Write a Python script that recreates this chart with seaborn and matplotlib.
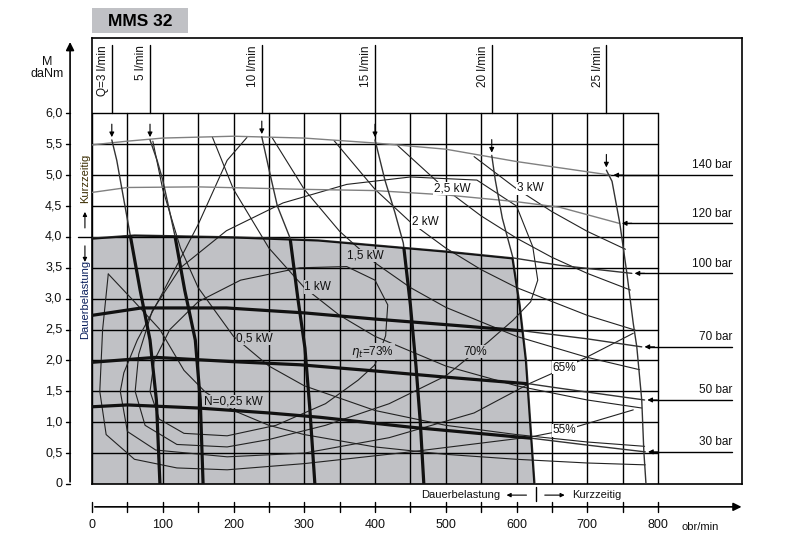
import numpy as np
import matplotlib.pyplot as plt
import seaborn as sns
from matplotlib.patches import Polygon, Rectangle

sns.set_theme(style="white")
plt.rcParams['font.family'] = ['Liberation Sans', 'DejaVu Sans']

# ---- data (x = obr/min, y = daNm) ----
x_ticks = [0, 100, 200, 300, 400, 500, 600, 700, 800]
y_ticks = [0, 0.5, 1.0, 1.5, 2.0, 2.5, 3.0, 3.5, 4.0, 4.5, 5.0, 5.5, 6.0]
y_labels = ["0", "0,5", "1,0", "1,5", "2,0", "2,5", "3,0", "3,5", "4,0", "4,5", "5,0", "5,5", "6,0"]

# pressure lines
p140_x = [0, 50, 100, 200, 300, 400, 500, 600, 733]
p140_y = [5.49, 5.55, 5.6, 5.63, 5.6, 5.52, 5.42, 5.22, 5.0]
p120_x = [0, 50, 150, 300, 400, 500, 600, 661, 745]
p120_y = [4.72, 4.8, 4.81, 4.77, 4.75, 4.68, 4.57, 4.48, 4.22]
p100_x = [0, 60, 200, 320, 400, 500, 595, 661, 763]
p100_y = [3.98, 4.03, 4.0, 3.95, 3.87, 3.77, 3.66, 3.54, 3.41]
p70_x = [0, 70, 190, 300, 400, 500, 609, 700, 777]
p70_y = [2.73, 2.85, 2.85, 2.77, 2.67, 2.58, 2.48, 2.35, 2.22]
p50_x = [0, 90, 200, 294, 400, 500, 619, 661, 781]
p50_y = [1.97, 2.05, 1.98, 1.93, 1.83, 1.73, 1.62, 1.55, 1.36]
p30_x = [0, 50, 150, 250, 322, 450, 622, 700, 782]
p30_y = [1.25, 1.28, 1.23, 1.15, 1.08, 0.92, 0.74, 0.63, 0.52]
pressures = [
    ("140 bar", p140_x, p140_y, "#808080"), ("120 bar", p120_x, p120_y, "#808080"),
    ("100 bar", p100_x, p100_y, "#333333"), ("70 bar", p70_x, p70_y, "#333333"),
    ("50 bar", p50_x, p50_y, "#333333"), ("30 bar", p30_x, p30_y, "#333333"),
]

# flow lines
q3_x = [28, 35, 40, 54, 68, 82, 91, 96]
q3_y = [5.57, 5.24, 4.92, 4.03, 3.14, 2.33, 1.36, 0]
q5_x = [82, 92, 100, 117, 131, 146, 153, 157]
q5_y = [5.57, 5.24, 4.92, 4.03, 3.14, 2.33, 1.36, 0]
q10_x = [240, 250, 262, 280, 291, 301, 308, 315]
q10_y = [5.62, 5.1, 4.5, 3.98, 3.0, 2.2, 1.2, 0]
q15_x = [400, 414, 428, 440, 450, 458, 464, 469]
q15_y = [5.57, 4.92, 4.4, 3.9, 2.9, 1.9, 1.0, 0]
q20_x = [565, 570, 580, 595, 605, 614, 620, 626]
q20_y = [5.32, 4.92, 4.3, 3.66, 2.9, 2.0, 1.0, 0]
q25_x = [727, 735, 746, 756, 765, 770, 777, 780, 783]
q25_y = [5.08, 4.9, 4.22, 3.41, 2.6, 2.22, 1.36, 0.52, 0]
flows = [
    ("Q=3 l/min", q3_x, q3_y), ("5 l/min", q5_x, q5_y), ("10 l/min", q10_x, q10_y),
    ("15 l/min", q15_x, q15_y), ("20 l/min", q20_x, q20_y), ("25 l/min", q25_x, q25_y),
]

# power lines
n025_x = [23, 60, 96, 130, 160, 200, 250, 300, 400, 500, 600, 700, 782]
n025_y = [3.4, 2.95, 2.5, 1.84, 1.49, 1.19, 0.95, 0.8, 0.6, 0.48, 0.4, 0.34, 0.31]
n05_x = [86, 100, 125, 150, 200, 250, 300, 400, 500, 600, 700, 781]
n05_y = [5.55, 4.77, 3.82, 3.18, 2.39, 1.91, 1.59, 1.19, 0.95, 0.8, 0.68, 0.61]
n1_x = [170, 200, 250, 300, 350, 400, 500, 600, 700, 777]
n1_y = [5.62, 4.77, 3.82, 3.18, 2.73, 2.39, 1.91, 1.59, 1.36, 1.23]
n15_x = [255, 300, 350, 400, 450, 500, 600, 700, 774]
n15_y = [5.6, 4.77, 4.09, 3.58, 3.18, 2.86, 2.39, 2.05, 1.85]
n2_x = [342, 400, 450, 500, 550, 600, 700, 768]
n2_y = [5.56, 4.77, 4.24, 3.82, 3.47, 3.18, 2.73, 2.49]
n25_x = [432, 500, 550, 600, 650, 700, 761]
n25_y = [5.48, 4.77, 4.34, 3.98, 3.67, 3.41, 3.14]
n3_x = [540, 600, 650, 700, 754]
n3_y = [5.3, 4.78, 4.41, 4.09, 3.8]
powers = [n025_x, n025_y, n05_x, n05_y, n1_x, n1_y, n15_x, n15_y,
          n2_x, n2_y, n25_x, n25_y, n3_x, n3_y]

# efficiency contours
e73_x = [400, 376, 330, 260, 191, 130, 95, 82, 88, 110, 150, 210, 294, 360, 400, 418, 415, 400]
e73_y = [1.93, 1.68, 1.3, 0.95, 0.78, 0.82, 1.05, 1.5, 2.0, 2.5, 2.95, 3.3, 3.5, 3.52, 3.3, 2.9, 2.4, 1.93]
e70_x = [542, 500, 420, 330, 250, 191, 120, 75, 61, 66, 85, 125, 190, 270, 360, 450, 544, 600,
         623, 630, 620, 595, 560, 542]
e70_y = [2.14, 1.75, 1.3, 0.95, 0.72, 0.6, 0.64, 0.95, 1.5, 2.1, 2.8, 3.5, 4.1, 4.55, 4.85, 4.97, 4.92, 4.5,
         3.84, 3.3, 2.95, 2.65, 2.3, 2.14]
e65_x = [219, 191, 150, 100, 64, 45, 40, 50, 90, 191, 300, 420, 540, 619, 668, 697, 765]
e65_y = [5.61, 5.24, 4.2, 3.1, 2.33, 1.8, 1.5, 0.85, 0.55, 0.44, 0.5, 0.75, 1.15, 1.63, 1.88, 2.04, 2.44]
e55_x = [23, 15, 11, 20, 60, 120, 191, 300, 450, 619, 668, 765]
e55_y = [3.4, 2.5, 1.5, 0.8, 0.4, 0.26, 0.23, 0.33, 0.52, 0.76, 0.87, 1.2]
effs = [e73_x, e73_y, e70_x, e70_y, e65_x, e65_y, e55_x, e55_y]

# labels on the curves: text, x, y, inside grey area
curve_labels = [
    ("N=0,25 kW", 200, 1.34, True), ("0,5 kW", 230, 2.36, True), ("1 kW", 319, 3.19, True),
    ("1,5 kW", 386, 3.7, True), ("2 kW", 471, 4.24, False), ("2,5 kW", 509, 4.79, False),
    ("3 kW", 619, 4.79, False), (r"$\eta_t$=73%", 397, 2.14, True), ("70%", 541, 2.14, True),
    ("65%", 668, 1.88, False), ("55%", 668, 0.87, False),
]

# ---- figure ----
fig = plt.figure(figsize=(8, 5.46), dpi=100)
ax = fig.add_axes([92 / 800, 62 / 546, 650 / 800, 446 / 546])
ax.set_xlim(0, 918.7)
ax.set_ylim(0, 7.22)
ax.set_xticks([])
ax.set_yticks([])
for s in ax.spines.values():
    s.set_color("black")
    s.set_linewidth(1.2)

grey = "#c0c1c5"
lw_thin = 0.8
lw_bold = 2.3


def line(xs, ys, **kw):
    # plain polyline through the points, in the given order
    sns.lineplot(x=xs, y=ys, ax=ax, sort=False, estimator=None, errorbar=None, **kw)


# grey area: below 100 bar line, left of 20 l/min line
gx = [0] + p100_x[:7] + q20_x[3:] + [0]
gy = [0] + p100_y[:7] + q20_y[3:] + [0]
area = Polygon(np.column_stack([gx, gy]), closed=True, facecolor=grey, edgecolor="none", zorder=0)
ax.add_patch(area)

# grid
for gxv in range(0, 801, 50):
    ax.plot([gxv, gxv], [0, 6], color="black", lw=1.0, zorder=1)
for gyv in np.arange(0.5, 6.01, 0.5):
    ax.plot([0, 800], [gyv, gyv], color="black", lw=1.0, zorder=1)

# power and efficiency lines (thin)
for i in range(0, len(powers), 2):
    line(powers[i], powers[i + 1], color="#222222", lw=lw_thin, zorder=2)
for i in range(0, len(effs), 2):
    line(effs[i], effs[i + 1], color="#222222", lw=lw_thin, zorder=2)

# pressure lines: thin everywhere, bold inside the grey area
for name, px, py, col in pressures:
    line(px, py, color=col, lw=1.0, zorder=3)
    bold, = ax.plot(px, py, color="#111111", lw=lw_bold, zorder=4, solid_capstyle="butt")
    bold.set_clip_path(area)
    ax.annotate("", xy=(px[-1], py[-1]), xytext=(px[-1] + 22, py[-1]),
                arrowprops=dict(arrowstyle="-|>", color="black", lw=0.8, mutation_scale=7))
    ax.plot([px[-1] + 10, 905], [py[-1], py[-1]], color="black", lw=1.0, zorder=3)
    ax.text(905, py[-1] + 0.06, name, ha="right", va="bottom", fontsize=8.5, color="#111111")

# flow lines
for name, fx, fy in flows:
    line(fx, fy, color="#333333", lw=1.0, zorder=3)
    bold, = ax.plot(fx, fy, color="#111111", lw=lw_bold, zorder=4)
    bold.set_clip_path(area)
    ax.plot([fx[0], fx[0]], [6.0, 7.1], color="black", lw=1.0, zorder=3)
    ax.annotate("", xy=(fx[0], fy[0]), xytext=(fx[0], fy[0] + 0.3),
                arrowprops=dict(arrowstyle="-|>", color="black", lw=0.8, mutation_scale=7))
    ax.text(fx[0] - 4, 7.1, name, rotation=90, ha="right", va="top", fontsize=8.5, color="#111111")

# labels on curves, with a knock-out behind them (under the bold lines)
for txt, tx, ty, inside in curve_labels:
    ax.text(tx, ty, txt, ha="center", va="center", fontsize=8.5, color="#111111", zorder=3.5,
            bbox=dict(boxstyle="square,pad=0.05", facecolor=grey if inside else "white", edgecolor="none"))

# left axis
ax.annotate("", xy=(-31, 7.2), xytext=(-31, -0.01), annotation_clip=False,
            arrowprops=dict(arrowstyle="-|>", color="black", lw=1.2, mutation_scale=12))
for yv, lab in zip(y_ticks, y_labels):
    ax.plot([-37, -31], [yv, yv], color="black", lw=1.0, clip_on=False)
    ax.text(-42, yv, lab, ha="right", va="center", fontsize=9, color="#111111")
ax.text(-64, 6.83, "M", ha="center", va="center", fontsize=9, color="#111111")
ax.text(-64, 6.64, "daNm", ha="center", va="center", fontsize=9, color="#111111")

# left side: Kurzzeitig / Dauerbelastung
ax.text(-10, 4.95, "Kurzzeitig", rotation=90, ha="center", va="center", fontsize=8, color="#3a2c00")
ax.text(-10, 2.98, "Dauerbelastung", rotation=90, ha="center", va="center", fontsize=8, color="#0a1f5c")
ax.plot([-20, 0], [4.0, 4.0], color="black", lw=1.0, clip_on=False)
ax.annotate("", xy=(-10, 4.45), xytext=(-10, 4.1), annotation_clip=False,
            arrowprops=dict(arrowstyle="-|>", color="black", lw=0.8, mutation_scale=6))
ax.annotate("", xy=(-10, 3.55), xytext=(-10, 3.9), annotation_clip=False,
            arrowprops=dict(arrowstyle="-|>", color="black", lw=0.8, mutation_scale=6))

# bottom axis
ax.annotate("", xy=(922, -0.37), xytext=(0, -0.37), annotation_clip=False,
            arrowprops=dict(arrowstyle="-|>", color="black", lw=1.2, mutation_scale=12))
for xv in range(0, 801, 50):
    ax.plot([xv, xv], [-0.45, -0.29], color="black", lw=1.0, clip_on=False)
for xv in x_ticks:
    ax.text(xv, -0.66, str(xv), ha="center", va="center", fontsize=9, color="#111111")
ax.text(860, -0.7, "obr/min", ha="center", va="center", fontsize=8, color="#111111")

# bottom: Dauerbelastung / Kurzzeitig
ax.plot([628, 628], [-0.05, -0.28], color="black", lw=1.0, clip_on=False)
ax.text(577, -0.18, "Dauerbelastung", ha="right", va="center", fontsize=8, color="#111111")
ax.annotate("", xy=(582, -0.18), xytext=(618, -0.18), annotation_clip=False,
            arrowprops=dict(arrowstyle="-|>", color="black", lw=0.8, mutation_scale=6))
ax.annotate("", xy=(672, -0.18), xytext=(636, -0.18), annotation_clip=False,
            arrowprops=dict(arrowstyle="-|>", color="black", lw=0.8, mutation_scale=6))
ax.text(679, -0.18, "Kurzzeitig", ha="left", va="center", fontsize=8, color="#111111")

# title box
fig.patches.append(Rectangle((92 / 800, 1 - 33 / 546), 96 / 800, 25 / 546, transform=fig.transFigure,
                             facecolor=grey, edgecolor="none"))
fig.text(140 / 800, 1 - 21 / 546, "MMS 32", ha="center", va="center", fontsize=12.5,
         fontweight="bold", color="black")

fig.savefig("out.png", dpi=100)
